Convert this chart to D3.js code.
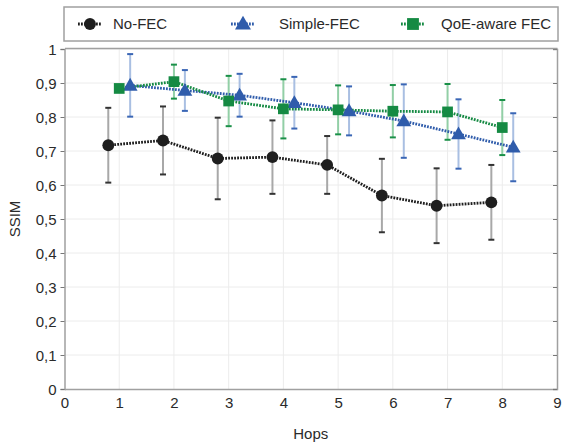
<!DOCTYPE html>
<html><head><meta charset="utf-8">
<script src="https://cdn.jsdelivr.net/npm/d3@7"></script>
<style>body{margin:0;background:#fff;}svg{display:block;font-family:"Liberation Sans",Arial,sans-serif;}</style>
</head><body><div id="chart"></div>
<script>
const hops = [1,2,3,4,5,6,7,8];
const seriesNames = ["No-FEC","Simple-FEC","QoE-aware FEC"];
const noFec = [0.717,0.731,0.678,0.682,0.659,0.569,0.539,0.549];
const noFecErr = [0.11,0.10,0.12,0.108,0.085,0.108,0.11,0.11];
const simpleFec = [0.893,0.878,0.864,0.842,0.818,0.788,0.750,0.711];
const simpleFecErr = [0.092,0.06,0.063,0.076,0.072,0.108,0.102,0.10];
const qoeFec = [0.884,0.904,0.847,0.824,0.821,0.817,0.815,0.769];
const qoeFecErr = [0.01,0.05,0.074,0.087,0.072,0.077,0.082,0.081];
const xTicks = [0,1,2,3,4,5,6,7,8,9];
const yTicks = [0,0.1,0.2,0.3,0.4,0.5,0.6,0.7,0.8,0.9,1];

const W=562,H=446;
const svg=d3.select("#chart").append("svg").attr("width",W).attr("height",H);
const x=d3.scaleLinear().domain([0,9]).range([64.5,557]);
const y=d3.scaleLinear().domain([0,1]).range([389,49]);
const fmt=d=>String(d).replace(".",",");

// grid
svg.append("g").selectAll("line").data(xTicks.slice(1,-1)).join("line")
 .attr("x1",d=>x(d)).attr("x2",d=>x(d)).attr("y1",y(0)).attr("y2",y(1))
 .attr("stroke","#ececec").attr("stroke-width",1);
svg.append("g").selectAll("line").data(yTicks.slice(1)).join("line")
 .attr("x1",x(0)).attr("x2",x(9)).attr("y1",d=>y(d)).attr("y2",d=>y(d))
 .attr("stroke","#ececec").attr("stroke-width",1);

// axes
const axColor="#a0a0a0";
const gL=svg.append("g").attr("transform",`translate(${x(0)},0)`)
 .call(d3.axisLeft(y).tickValues(yTicks).tickFormat(fmt).tickSize(4).tickPadding(4));
const gB=svg.append("g").attr("transform",`translate(0,${y(0)})`)
 .call(d3.axisBottom(x).tickValues(xTicks).tickFormat(d=>d).tickSize(0).tickPadding(8));
const gR=svg.append("g").attr("transform",`translate(${x(9)},0)`)
 .call(d3.axisRight(y).tickValues(yTicks).tickFormat("").tickSize(-4));
const gT=svg.append("g").attr("transform",`translate(0,${y(1)-1})`)
 .call(d3.axisTop(x).tickValues([]).tickSize(0));
[gL,gB,gR,gT].forEach(g=>{
  g.select(".domain").attr("stroke",axColor).attr("stroke-width",1.5);
  g.selectAll(".tick line").attr("stroke","#777");
  g.selectAll("text").attr("fill","#2a2a2a").style("font-size","15px").style("font-family","Liberation Sans, Arial, sans-serif");
});
gL.selectAll("text").attr("dy","0.35em");

svg.append("text").attr("x",x(4.5)).attr("y",439).attr("text-anchor","middle")
 .attr("fill","#2a2a2a").style("font-size","15px").text("Hops");
svg.append("text").attr("transform",`translate(15,${y(0.5)}) rotate(-90)`).attr("text-anchor","middle")
 .attr("dy","0.35em").attr("fill","#2a2a2a").style("font-size","15px").text("SSIM");

const series=[
 {name:seriesNames[0],vals:noFec,err:noFecErr,off:-0.2,color:"#1e1e1e",errColor:"#a8a8a8",capColor:"#333",shape:"circle"},
 {name:seriesNames[1],vals:simpleFec,err:simpleFecErr,off:0.2,color:"#2f5cab",errColor:"#a9bfe2",capColor:"#3a66b5",shape:"triangle"},
 {name:seriesNames[2],vals:qoeFec,err:qoeFecErr,off:0,color:"#158a43",errColor:"#92cfa6",capColor:"#1a9048",shape:"square"}
];
const types={circle:d3.symbolCircle,triangle:d3.symbolTriangle,square:d3.symbolSquare};
const plotSize={circle:110,triangle:95,square:115};
const legSize={circle:110,triangle:110,square:140};

// error bars
series.forEach(s=>{
  const g=svg.append("g");
  hops.forEach((h,i)=>{
    const cx=x(h+s.off), t=y(s.vals[i]+s.err[i]), b=y(s.vals[i]-s.err[i]);
    g.append("line").attr("x1",cx).attr("x2",cx).attr("y1",t).attr("y2",b).attr("stroke",s.errColor).attr("stroke-width",2);
    [t,b].forEach(yy=>g.append("line").attr("x1",cx-3).attr("x2",cx+3).attr("y1",yy).attr("y2",yy).attr("stroke",s.capColor).attr("stroke-width",2));
  });
});
// lines
series.forEach(s=>{
  const line=d3.line().x((d,i)=>x(hops[i]+s.off)).y(d=>y(d));
  svg.append("path").datum(s.vals).attr("d",line).attr("fill","none")
   .attr("stroke",s.color).attr("stroke-width",2.8).attr("stroke-dasharray","1.8,1.2");
});
// markers
series.forEach(s=>{
  svg.append("g").selectAll("path").data(s.vals).join("path")
   .attr("transform",(d,i)=>`translate(${x(hops[i]+s.off)},${y(d)+(s.shape==="triangle"?1:0)})`)
   .attr("d",d3.symbol().type(types[s.shape]).size(plotSize[s.shape])()).attr("fill",s.color);
});

// legend
const lg=svg.append("g");
lg.append("rect").attr("x",64).attr("y",7).attr("width",494).attr("height",34)
 .attr("fill","#fff").attr("stroke","#a0a0a0").attr("stroke-width",1.5);
const lx=[90,243,413], tx=[113,279,441];
series.forEach((s,i)=>{
  lg.append("line").attr("x1",lx[i]-12).attr("x2",lx[i]+12).attr("y1",24).attr("y2",24)
   .attr("stroke",s.color).attr("stroke-width",2.8).attr("stroke-dasharray","1.8,1.2");
  lg.append("path").attr("transform",`translate(${lx[i]},${24+(s.shape==="triangle"?1:0)})`)
   .attr("d",d3.symbol().type(types[s.shape]).size(legSize[s.shape])()).attr("fill",s.color);
  lg.append("text").attr("x",tx[i]).attr("y",24).attr("dy","0.35em").attr("fill","#2a2a2a")
   .style("font-size","15px").text(s.name);
});
</script></body></html>
